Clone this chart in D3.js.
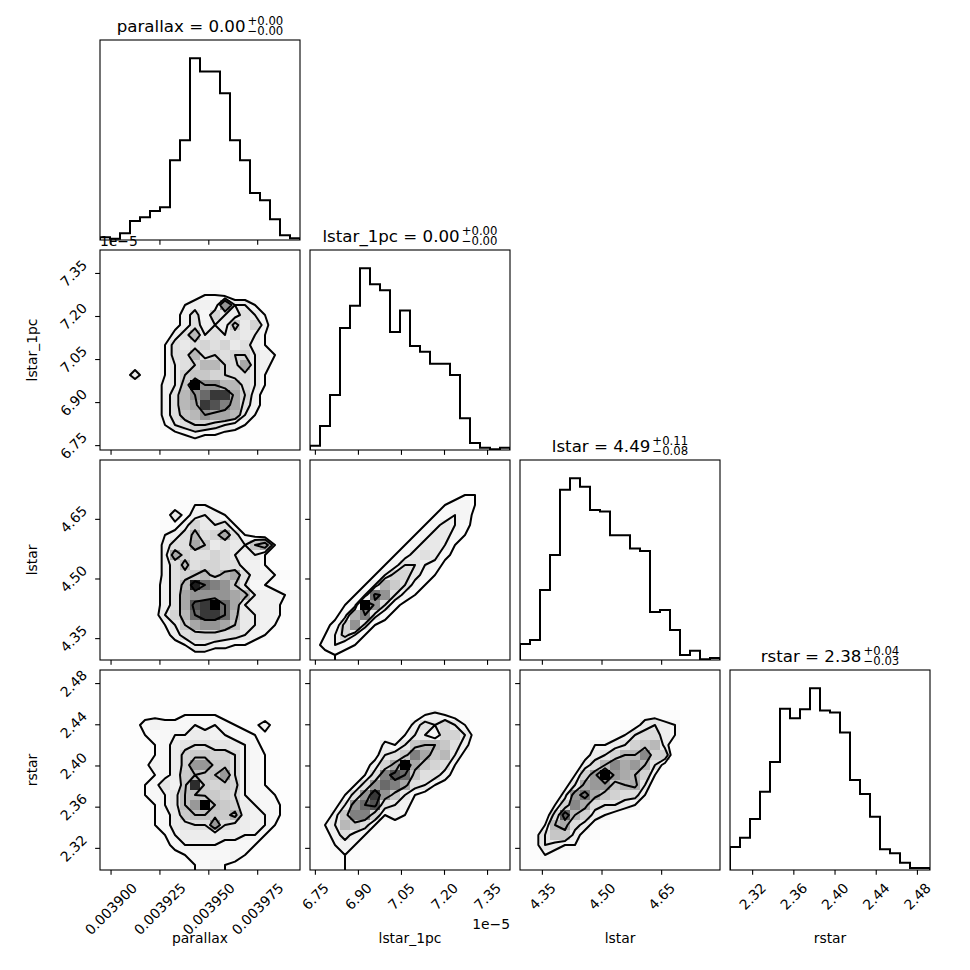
<!DOCTYPE html>
<html>
<head>
<meta charset="utf-8">
<script src="https://cdn.jsdelivr.net/npm/d3@7"></script>
<style>
  body { margin: 0; background: #fff; }
  text { font-family: "DejaVu Sans", sans-serif; fill: #000; }
</style>
</head>
<body>
<div id="main"><svg width="970" height="970"></svg></div>
<script>
// Parameters, titles, ranges and ticks
var names = ["parallax", "lstar_1pc", "lstar", "rstar"];
var titleMain = ["parallax = 0.00", "lstar_1pc = 0.00", "lstar = 4.49", "rstar = 2.38"];
var titleUp = ["+0.00", "+0.00", "+0.11", "+0.04"];
var titleDown = ["\u22120.00", "\u22120.00", "\u22120.08", "\u22120.03"];
var ranges = [[0.0038946, 0.0039969], [6.733, 7.430], [4.295, 4.798], [2.2985, 2.4927]];
var tickValues = [
  [0.0039, 0.003925, 0.00395, 0.003975],
  [6.75, 6.90, 7.05, 7.20, 7.35],
  [4.35, 4.50, 4.65],
  [2.32, 2.36, 2.40, 2.44, 2.48]
];
var tickFormats = [".6f", ".2f", ".2f", ".2f"];
var offsetText = "1e\u22125";   // lstar_1pc values are in units of 1e-5

// 1D histograms (20 bins over each range)
var histParallax = [8, 4, 20, 57, 68, 87, 98, 239, 299, 545, 505, 505, 440, 299, 239, 141, 119, 62, 14, 5];
var histLstar1pc = [13, 72, 165, 366, 433, 546, 498, 480, 354, 419, 312, 295, 259, 259, 225, 95, 21, 7, 2, 7];
var histLstar = [48, 60, 210, 315, 510, 545, 519, 450, 445, 374, 374, 334, 327, 144, 150, 90, 15, 28, 2, 6];
var histRstar = [69, 97, 153, 235, 324, 484, 456, 483, 546, 479, 473, 413, 270, 228, 160, 62, 50, 22, 6, 6];

// 2D histograms, 20x20, one base-36 count per cell, top row = highest y bin
var gridLstar1pcParallax = [
  "00000001000000000000",
  "00000000100100000000",
  "00010010010110100000",
  "00101010111211010000",
  "00011011123321100000",
  "001011113443b5531000",
  "00011112463754653100",
  "00101112464548574100",
  "00011114695656553100",
  "00111136567675643100",
  "00101136696767754310",
  "01011135679976a54210",
  "01151135788776653110",
  "001011458hbb99653100",
  "001101469bdffa742100",
  "000111469afeca642100",
  "0001014689baa9531100",
  "00010135677654311000",
  "00001112343322111000",
  "00000101111111000000"
];
var gridLstarParallax = [
  "00000000000000000000",
  "00000000100000000000",
  "00011111010000000000",
  "00011111121100000000",
  "00111111233210100000",
  "00111115245431100000",
  "00111122475563110000",
  "001111346967a6321000",
  "001111466a856558a310",
  "0111114a766765453100",
  "01111146967766443110",
  "0011114678979a644321",
  "001112469gdcb8533210",
  "00111246abbbba954432",
  "00111246aefhda544420",
  "001112579dffd9554420",
  "000111358abba8554310",
  "00001124677766543110",
  "00000112355443321000",
  "00000011122111110000"
];
var gridLstarLstar1pc = [
  "00000000000000000000",
  "00000000000000000000",
  "00000000000000001100",
  "00000000000000122100",
  "00000000000002342100",
  "00000000000023541000",
  "00000000000246531000",
  "00000000002466420000",
  "00000000024665200000",
  "00000000246763100000",
  "00000002477541000000",
  "00000025886420000000",
  "0000025b974200000000",
  "000025fd742000000000",
  "00024kd7310000000000",
  "0014be63100000000000",
  "0138d621000000000000",
  "02585200000000000000",
  "13532000000000000000",
  "11210000000000000000"
];
var gridRstarParallax = [
  "00000000000000000000",
  "00000100100000000000",
  "00011111111000000000",
  "00111112221110000000",
  "00112222333322110000",
  "00124544454543225100",
  "00123345566554432100",
  "00122346788776542100",
  "001223469aa998543200",
  "001225469eeaa8543210",
  "00122346ababe8543210",
  "00123475aka9a9543210",
  "00123457bbaa98544320",
  "00112357bemba9654420",
  "00112346abbaac655420",
  "00012346788e87655310",
  "00011235666666553210",
  "00011124555544432100",
  "00001112344445321100",
  "00000111233532211000"
];
var gridRstarLstar1pc = [
  "00000000000000000000",
  "00000000000000000000",
  "00000000000001100000",
  "00000000000000011000",
  "00000000001343221100",
  "00000000014657531000",
  "00000001235537752100",
  "00000004358998641000",
  "0000002568ca89521000",
  "00000247aha876310000",
  "0000136ced8664200000",
  "000136bdca6532100000",
  "00136bfb853210000000",
  "0125bde6542000000000",
  "0148cc73430000000000",
  "13598632210000000000",
  "12464321000000000000",
  "11343210000000000000",
  "01232100000000000000",
  "00131000000000000000"
];
var gridRstarLstar = [
  "00000000000000000000",
  "00000000000000000000",
  "00000000000000000100",
  "00000000000011101010",
  "00000000000133221100",
  "00000000012356541000",
  "00000001234677541000",
  "0000001445689a520000",
  "0000013568aad8810000",
  "00000257adbca6300000",
  "0000148cjcba84100000",
  "000136bcc9ab62000000",
  "00025ceb987740000000",
  "00148db7665410000000",
  "0127fa85432100000000",
  "024ab753210000000000",
  "13699532000000000000",
  "13654410000000000000",
  "12432100000000000000",
  "11210000000000000000"
];

var hists = [histParallax, histLstar1pc, histLstar, histRstar];
var grids = {
  "1,0": gridLstar1pcParallax,
  "2,0": gridLstarParallax,
  "2,1": gridLstarLstar1pc,
  "3,0": gridRstarParallax,
  "3,1": gridRstarLstar1pc,
  "3,2": gridRstarLstar
};
// probability mass enclosed by each contour (0.5, 1, 1.5, 2 sigma)
var probLevels = [0.1175, 0.3935, 0.6753, 0.8647];

// Layout
var svg = d3.select("#main").select("svg");
var K = 4, panelSize = 200, gap = 10, left0 = 100, top0 = 40;
var fontTick = 13.89, fontTitle = 16.67, fontScript = 11.7;
var tickLen = 4.86, labelPad = 9.7, lineH = 16.2;

function panelX(j) { return left0 + j * (panelSize + gap); }
function panelY(i) { return top0 + i * (panelSize + gap); }
function xScaleFor(j) {
  return d3.scaleLinear().domain(ranges[j]).range([panelX(j), panelX(j) + panelSize]);
}
function yScaleFor(i) {
  return d3.scaleLinear().domain(ranges[i]).range([panelY(i) + panelSize, panelY(i)]);
}

var defs = svg.append("defs");

function addClip(i, j) {
  defs.append("clipPath").attr("id", "clip" + i + j)
    .append("rect")
    .attr("x", panelX(j)).attr("y", panelY(i))
    .attr("width", panelSize).attr("height", panelSize);
  return "url(#clip" + i + j + ")";
}

// Same level rule as corner.py: contour heights enclosing given fractions
function cornerLevels(flat) {
  var sorted = flat.slice().sort(function(a, b) { return b - a; });
  var total = d3.sum(sorted), cum = 0;
  var sm = sorted.map(function(v) { cum += v; return cum / total; });
  var V = probLevels.map(function(p) {
    var last = null;
    for (var k = 0; k < sorted.length; k++) if (sm[k] <= p) last = sorted[k];
    return last === null ? sorted[0] : last;
  });
  V.sort(function(a, b) { return a - b; });
  for (var k = 0; k < V.length - 1; k++) {
    if (V[k + 1] === V[k]) { V[k] *= 1 - 1e-4; k = -1; V.sort(function(a, b) { return a - b; }); }
  }
  return V;
}

function drawHist(k) {
  var xs = xScaleFor(k);
  var counts = hists[k];
  var bw = (ranges[k][1] - ranges[k][0]) / counts.length;
  var ys = d3.scaleLinear().domain([0, 1.1 * d3.max(counts)])
    .range([panelY(k) + panelSize, panelY(k)]);
  var pts = [[ranges[k][0], 0]];
  counts.forEach(function(c, b) {
    pts.push([ranges[k][0] + b * bw, c]);
    pts.push([ranges[k][0] + (b + 1) * bw, c]);
  });
  pts.push([ranges[k][1], 0]);
  var line = d3.line()
    .x(function(d) { return xs(d[0]); })
    .y(function(d) { return ys(d[1]); });
  svg.append("g").attr("clip-path", addClip(k, k))
    .append("path")
    .datum(pts)
    .attr("d", line)
    .attr("fill", "none")
    .attr("stroke", "#000")
    .attr("stroke-width", 2)
    .attr("stroke-linejoin", "miter");
}

function draw2d(i, j) {
  var rows = grids[i + "," + j];
  var xs = xScaleFor(j), ys = yScaleFor(i);
  var n = rows.length;
  var bwx = (ranges[j][1] - ranges[j][0]) / n;
  var bwy = (ranges[i][1] - ranges[i][0]) / n;
  var H = rows.map(function(r) { return r.split("").map(function(c) { return parseInt(c, 36); }); });
  var flat = d3.merge(H);
  var hmax = d3.max(flat);

  var g = svg.append("g").attr("clip-path", addClip(i, j));

  // density cells (black -> transparent white, seen over white)
  var cells = [];
  H.forEach(function(row, r) {
    row.forEach(function(v, c) { if (v > 0) cells.push({ r: r, c: c, v: v }); });
  });
  g.selectAll("rect.cell").data(cells).join("rect")
    .attr("class", "cell")
    .attr("x", function(d) { return xs(ranges[j][0] + d.c * bwx); })
    .attr("width", function(d) { return xs(ranges[j][0] + (d.c + 1) * bwx) - xs(ranges[j][0] + d.c * bwx); })
    .attr("y", function(d) { return ys(ranges[i][1] - d.r * bwy); })
    .attr("height", function(d) { return ys(ranges[i][1] - (d.r + 1) * bwy) - ys(ranges[i][1] - d.r * bwy); })
    .attr("fill", function(d) {
      var t = d.v / hmax;
      var gr = Math.round(255 * (1 - t * t));
      return d3.rgb(gr, gr, gr);
    })
    .attr("shape-rendering", "crispEdges");

  // padded grid like corner.py (edge copy then zero ring)
  var P = n + 4, pad = new Array(P * P).fill(0);
  for (var r = -1; r <= n; r++) {
    for (var c = -1; c <= n; c++) {
      var rr = Math.min(Math.max(r, 0), n - 1), cc = Math.min(Math.max(c, 0), n - 1);
      pad[(r + 2) * P + (c + 2)] = H[rr][cc];
    }
  }
  var V = cornerLevels(flat);
  var contours = d3.contours().size([P, P]).thresholds(V)(pad);
  var proj = d3.geoTransform({
    point: function(x, y) {
      this.stream.point(xs(ranges[j][0] + (x - 2) * bwx), ys(ranges[i][1] - (y - 2) * bwy));
    }
  });
  g.selectAll("path.ctr").data(contours).join("path")
    .attr("class", "ctr")
    .attr("d", d3.geoPath(proj))
    .attr("fill", "none")
    .attr("stroke", "#000")
    .attr("stroke-width", 2)
    .attr("stroke-linejoin", "round");
}

function drawFrame(i, j) {
  svg.append("rect")
    .attr("x", panelX(j)).attr("y", panelY(i))
    .attr("width", panelSize).attr("height", panelSize)
    .attr("fill", "none").attr("stroke", "#000").attr("stroke-width", 1.1);
}

function drawXAxis(i, j, showLabels) {
  var xs = xScaleFor(j);
  var ax = svg.append("g")
    .attr("transform", "translate(0," + (panelY(i) + panelSize) + ")")
    .call(d3.axisBottom(xs).tickValues(tickValues[j]).tickSize(tickLen).tickSizeOuter(0)
      .tickFormat(showLabels ? d3.format(tickFormats[j]) : function() { return ""; }));
  ax.attr("font-family", "DejaVu Sans").attr("font-size", fontTick);
  ax.select(".domain").remove();
  ax.selectAll(".tick line").attr("stroke", "#000").attr("stroke-width", 1.1);
  ax.selectAll(".tick text").attr("fill", "#000").each(function() {
    var w = this.getComputedTextLength();
    var off = labelPad + (w + lineH) / (2 * Math.SQRT2);
    d3.select(this).attr("y", 0).attr("dy", "0.35em").attr("text-anchor", "middle")
      .attr("transform", "translate(0," + off + ") rotate(-45)");
  });
}

function drawYAxis(i, j, showLabels) {
  var ys = yScaleFor(i);
  var ax = svg.append("g")
    .attr("transform", "translate(" + panelX(j) + ",0)")
    .call(d3.axisLeft(ys).tickValues(tickValues[i]).tickSize(tickLen).tickSizeOuter(0)
      .tickFormat(showLabels ? d3.format(tickFormats[i]) : function() { return ""; }));
  ax.attr("font-family", "DejaVu Sans").attr("font-size", fontTick);
  ax.select(".domain").remove();
  ax.selectAll(".tick line").attr("stroke", "#000").attr("stroke-width", 1.1);
  ax.selectAll(".tick text").attr("fill", "#000").each(function() {
    var w = this.getComputedTextLength();
    var off = labelPad + (w + lineH) / (2 * Math.SQRT2);
    d3.select(this).attr("x", 0).attr("dy", "0.35em").attr("text-anchor", "middle")
      .attr("transform", "translate(" + (-off) + ",0) rotate(-45)");
  });
}

// Title "name = value" with stacked +/- errors, as one text element
function drawTitle(k) {
  var cx = panelX(k) + panelSize / 2, by = panelY(k) - 8.3;
  var t = svg.append("text").attr("y", by);
  var main = t.append("tspan").attr("font-size", fontTitle).text(titleMain[k]);
  var up = t.append("tspan").attr("font-size", fontScript).attr("dy", -7).text(titleUp[k]);
  var dn = t.append("tspan").attr("font-size", fontScript).attr("dy", 10.6).text(titleDown[k]);
  var mw = main.node().getComputedTextLength();
  var sw = Math.max(up.node().getComputedTextLength(), dn.node().getComputedTextLength());
  var x0 = cx - (mw + 2 + sw) / 2;
  main.attr("x", x0);
  up.attr("x", x0 + mw + 2);
  dn.attr("x", x0 + mw + 2);
}

// Draw the corner grid
for (var i = 0; i < K; i++) {
  for (var j = 0; j <= i; j++) {
    if (i === j) {
      drawHist(i);
      drawFrame(i, i);
      drawXAxis(i, i, i === K - 1);
      drawTitle(i);
    } else {
      draw2d(i, j);
      drawFrame(i, j);
      drawXAxis(i, j, i === K - 1);
      drawYAxis(i, j, j === 0);
    }
  }
}

// Axis labels
names.forEach(function(name, k) {
  svg.append("text")
    .attr("x", panelX(k) + panelSize / 2).attr("y", 943)
    .attr("text-anchor", "middle").attr("font-size", fontTick)
    .text(name);
  if (k > 0) {
    var cy = panelY(k) + panelSize / 2;
    svg.append("text")
      .attr("transform", "translate(37," + cy + ") rotate(-90)")
      .attr("text-anchor", "middle").attr("font-size", fontTick)
      .text(name);
  }
});

// Offset texts for lstar_1pc
svg.append("text").attr("x", panelX(0)).attr("y", panelY(1) - 4)
  .attr("font-size", fontTick).text(offsetText);
svg.append("text").attr("x", panelX(1) + panelSize).attr("y", 929)
  .attr("text-anchor", "end").attr("font-size", fontTick).text(offsetText);
</script>
</body>
</html>
